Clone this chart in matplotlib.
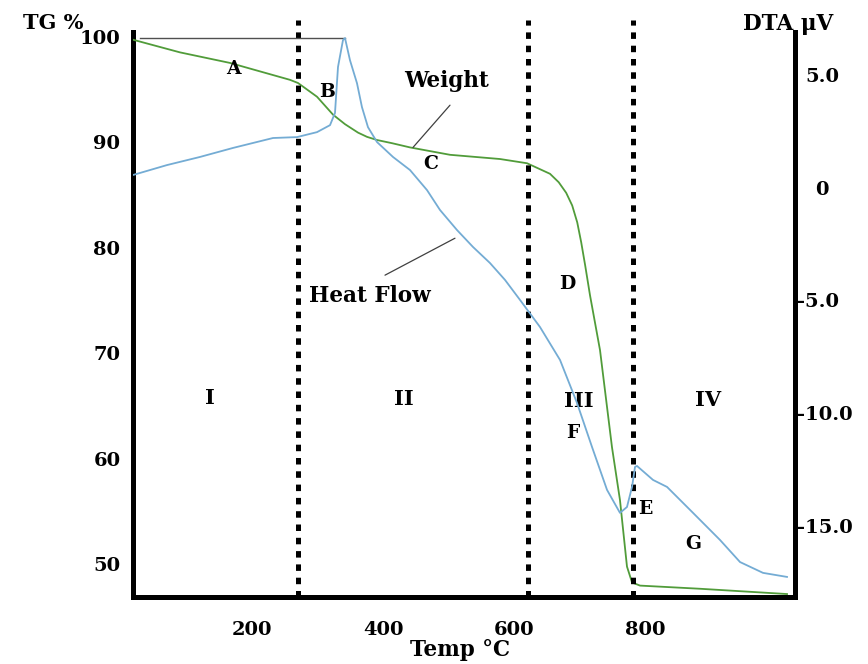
import matplotlib
matplotlib.use("Agg")
import matplotlib.pyplot as plt
import matplotlib.transforms as mtransforms

plt.rcParams['font.family'] = ['DejaVu Serif']
plt.rcParams['font.weight'] = 'bold'

# ---------------- data ----------------
temp_weight = [17.6, 89.4, 165.8, 211.6, 257.4, 269.7, 298.7, 323.2, 341.5, 361.4,
               375.1, 390.4, 413.3, 440.8, 501.9, 578.3, 619.6, 654.7, 668.0, 679.4,
               688.6, 696.3, 702.4, 708.5, 715.8, 731.1, 749.4, 761.6, 772.3, 780.0,
               792.2, 883.9, 1016.8]
weight = [99.7, 98.5, 97.5, 96.7, 95.9, 95.6, 94.3, 92.6, 91.7, 90.9,
          90.5, 90.2, 89.9, 89.5, 88.8, 88.4, 88.0, 87.0, 86.2, 85.2,
          84.0, 82.4, 80.5, 78.3, 75.5, 70.3, 61.1, 56.1, 49.8, 48.3,
          48.0, 47.7, 47.2]

temp_dta = [17.6, 69.5, 119.9, 170.4, 231.5, 268.1, 298.7, 318.6, 326.2, 330.8,
            338.4, 341.5, 349.1, 359.8, 367.4, 376.6, 390.4, 414.8, 440.8, 466.8,
            486.6, 512.6, 537.0, 562.9, 585.9, 608.9, 639.4, 670.0, 696.0, 718.9,
            741.8, 761.6, 772.3, 780.0, 784.6, 787.6, 812.1, 833.5, 873.2, 914.4,
            945.0, 980.1, 1016.8]
dta = [0.56, 1.00, 1.36, 1.76, 2.20, 2.24, 2.46, 2.77, 3.31, 5.35,
       6.54, 6.63, 5.65, 4.63, 3.57, 2.68, 2.02, 1.36, 0.78, -0.11,
       -0.99, -1.88, -2.63, -3.34, -4.09, -4.98, -6.18, -7.64, -9.55, -11.50,
       -13.40, -14.42, -14.16, -13.27, -12.38, -12.34, -12.96, -13.27, -14.42, -15.62,
       -16.60, -17.08, -17.26]

phase_bounds = [269.7, 621.1, 781.5]
temp_ticks = [200, 400, 600, 800]
tg_ticks = [100, 90, 80, 70, 60, 50]
dta_ticks = [5, 0, -5, -10, -15]
dta_labels = ['5.0', '0', '-5.0', '-10.0', '-15.0']

# labels placed on the TG axis (temperature, TG%)
letters = ['A', 'B', 'C', 'D', 'E', 'F', 'G']
letter_temp = [170.4, 314.0, 472.9, 680.7, 800.0, 689.9, 873.2]
letter_tg = [96.9, 94.75, 87.9, 76.6, 55.25, 62.45, 51.9]
phases = ['I', 'II', 'III', 'IV']
phase_temp = [135.2, 431.6, 699.0, 896.1]
phase_tg = [65.8, 65.7, 65.5, 65.6]

# ---------------- figure ----------------
fig = plt.figure(figsize=(8.68, 6.64), dpi=100)
ax = fig.add_axes([133/868, 67/664, 662/868, 565/664])
ax2 = ax.twinx()

green = '#519c3a'
blue = '#74acd4'

ax.plot(temp_weight, weight, color=green, lw=1.3, zorder=3)
ax2.plot(temp_dta, dta, color=blue, lw=1.3, zorder=3)
# flat trace line at the top running into the DTA peak
ax2.plot([28, temp_dta[dta.index(max(dta))]], [max(dta), max(dta)],
         color='#505050', lw=1.0, zorder=2)

ax.set_xlim(17.6, 1029.0)
ax.set_ylim(46.92, 100.43)
ax2.set_ylim(-18.15, 6.90)

for b in phase_bounds:
    ax.axvline(b, ymin=0, ymax=1.021, color='black', lw=3.6,
               linestyle=(0, (1.3, 1.36)), clip_on=False, zorder=4)

# spines
for a in (ax, ax2):
    a.spines['top'].set_visible(False)
ax.spines['right'].set_visible(False)
ax2.spines['left'].set_visible(False)
ax2.spines['bottom'].set_visible(False)
ax.spines['left'].set_linewidth(3.6)
ax.spines['bottom'].set_linewidth(3.6)
ax2.spines['right'].set_linewidth(3.6)

fs = 14
ax.set_xticks(temp_ticks)
ax.set_xticklabels([str(t) for t in temp_ticks], fontsize=fs, fontweight='bold')
ax.set_yticks(tg_ticks)
ax.set_yticklabels([str(t) for t in tg_ticks], fontsize=fs, fontweight='bold')
ax2.set_yticks(dta_ticks)
ax2.set_yticklabels(dta_labels, fontsize=fs, fontweight='bold')
ax.tick_params(axis='x', length=0, pad=17)
ax.tick_params(axis='y', length=0, pad=9.0)
ax2.tick_params(axis='y', length=0, pad=1.5)

ax.set_ylabel('TG %', rotation=0, fontsize=15, fontweight='bold', ha='center', va='center')
ax.yaxis.set_label_coords(-0.121, 1.016)
ax2.set_ylabel('DTA μV', rotation=0, fontsize=15.5, fontweight='bold', ha='center', va='center')
ax2.yaxis.set_label_coords(0.990, 1.014)
ax.set_xlabel('Temp °C', fontsize=15.5, fontweight='bold', ha='center', va='center')
ax.xaxis.set_label_coords(0.494, -0.094)

for s, t, v in zip(letters, letter_temp, letter_tg):
    ax.text(t, v, s, fontsize=13.5, fontweight='bold', ha='center', va='center', zorder=5)
for s, t, v in zip(phases, phase_temp, phase_tg):
    ax.text(t, v, s, fontsize=15, fontweight='bold', ha='center', va='center', zorder=5)

ax.text(497.3, 95.8, 'Weight', fontsize=15.5, fontweight='bold', ha='center', va='center')
ax.annotate('', xy=(445.4, 89.5), xytext=(501.9, 93.5),
            arrowprops=dict(arrowstyle='-', color='#404040', lw=0.9,
                            shrinkA=0, shrinkB=0))
ax.text(379.7, 75.4, 'Heat Flow', fontsize=15.5, fontweight='bold', ha='center', va='center')
ax.annotate('', xy=(509.5, 80.9), xytext=(402.6, 77.4),
            arrowprops=dict(arrowstyle='-', color='#404040', lw=0.9,
                            shrinkA=0, shrinkB=0))

fig.canvas.draw()
offsets = {'5.0': 6.0, '0': 13.0}
for lab in ax2.get_yticklabels():
    dx = offsets.get(lab.get_text(), 0.0)
    if dx:
        lab.set_transform(lab.get_transform() +
                          mtransforms.ScaledTranslation(dx/72, 0, fig.dpi_scale_trans))

fig.savefig('out.png', dpi=100)
